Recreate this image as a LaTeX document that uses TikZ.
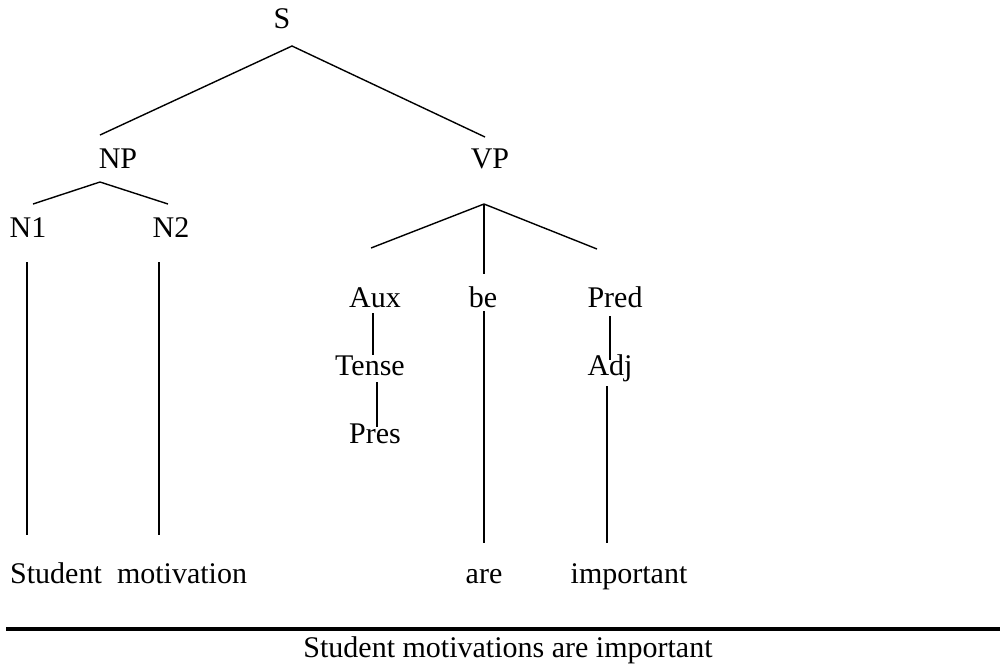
\documentclass[tikz,border=0pt]{standalone}
\usepackage{fontspec}
\setmainfont{Liberation Serif}
\begin{document}
\begin{tikzpicture}[x=0.5pt,y=-0.5pt,
  lbl/.style={anchor=base,inner sep=0pt,font=\fontsize{15}{18}\selectfont},
  branch/.style={line width=0.7pt},
  rule/.style={line width=2pt}]
\useasboundingbox (0,0) rectangle (1000,666);

% category labels and words
\node[lbl] (S)     at (282,28)  {S};
\node[lbl] (NP)    at (118,168) {NP};
\node[lbl] (VP)    at (490,168) {VP};
\node[lbl] (N1)    at (28,237)  {N1};
\node[lbl] (N2)    at (171,237) {N2};
\node[lbl] (Aux)   at (375,307) {Aux};
\node[lbl] (be)    at (483,307) {be};
\node[lbl] (Pred)  at (615,307) {Pred};
\node[lbl] (Tense) at (370,375) {Tense};
\node[lbl] (Adj)   at (610,375) {Adj};
\node[lbl] (Pres)  at (375,443) {Pres};
\node[lbl] (w1)    at (56,583)  {Student};
\node[lbl] (w2)    at (182,583) {motivation};
\node[lbl] (w3)    at (484,583) {are};
\node[lbl] (w4)    at (629,583) {important};
\node[lbl] (sent)  at (508,657) {Student motivations are important};

% branch end points
\coordinate (s-top) at (292,46);
\coordinate (s-l)   at (100,135);
\coordinate (s-r)   at (485,137);
\coordinate (np-top) at (100,182);
\coordinate (np-l)  at (33,204);
\coordinate (np-r)  at (168,204);
\coordinate (vp-top) at (484,204);
\coordinate (vp-l)  at (371,248);
\coordinate (vp-r)  at (597,249);
\coordinate (vp-m)  at (484,274);
\coordinate (aux-a) at (373,313);
\coordinate (aux-b) at (373,355);
\coordinate (ten-a) at (377,382);
\coordinate (ten-b) at (377,427);
\coordinate (be-a)  at (484,311);
\coordinate (be-b)  at (484,543);
\coordinate (pr-a)  at (610,316);
\coordinate (pr-b)  at (610,360);
\coordinate (adj-a) at (607,386);
\coordinate (adj-b) at (607,543);
\coordinate (n1-a)  at (27,262);
\coordinate (n1-b)  at (27,535);
\coordinate (n2-a)  at (159,262);
\coordinate (n2-b)  at (159,535);
\coordinate (rule-l) at (6,629);
\coordinate (rule-r) at (1000,629);

% tree branches
\draw[branch] (s-l) -- (s-top) -- (s-r);
\draw[branch] (np-l) -- (np-top) -- (np-r);
\draw[branch] (vp-l) -- (vp-top) -- (vp-r);
\draw[branch] (vp-top) -- (vp-m);
\draw[branch] (aux-a) -- (aux-b);
\draw[branch] (ten-a) -- (ten-b);
\draw[branch] (be-a) -- (be-b);
\draw[branch] (pr-a) -- (pr-b);
\draw[branch] (adj-a) -- (adj-b);
\draw[branch] (n1-a) -- (n1-b);
\draw[branch] (n2-a) -- (n2-b);

% rule above the sentence
\draw[rule] (rule-l) -- (rule-r);
\end{tikzpicture}
\end{document}
